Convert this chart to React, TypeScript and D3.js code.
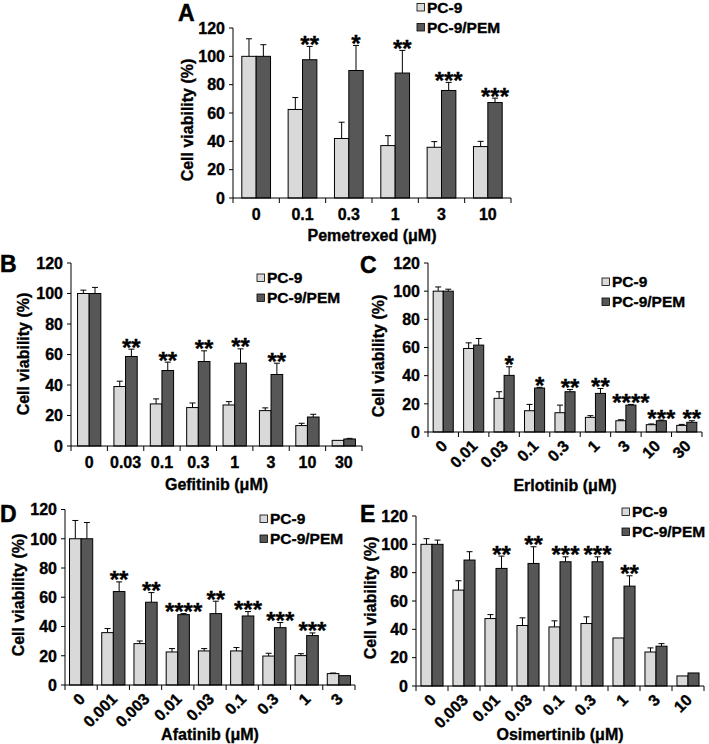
import React from "react";
import * as d3 from "d3";

// ---------- DATA ----------
const catsA = ["0", "0.1", "0.3", "1", "3", "10"];
const pc9A = [100, 62.5, 42, 37, 35.8, 36.3];
const pc9ErrA = [12.4, 8.4, 11.5, 7, 4, 3.7];
const pemA = [100, 97.6, 90, 88.2, 75.9, 67.4];
const pemErrA = [8.2, 9.4, 17.7, 16, 5.7, 3.1];
const starsA = ["", "**", "*", "**", "***", "***"];

const catsB = ["0", "0.03", "0.1", "0.3", "1", "3", "10", "30"];
const pc9B = [100, 39, 27.6, 25.2, 26.9, 23.2, 13.4, 3.7];
const pc9ErrB = [2.2, 3.5, 3.3, 3, 2.2, 1.8, 1.5, 0];
const pemB = [100, 58.7, 49.5, 55.4, 54.3, 46.9, 19, 4.6];
const pemErrB = [4, 4.8, 5.5, 7, 9.4, 7.4, 1.8, 0.4];
const starsB = ["", "**", "**", "**", "**", "**", "", ""];

const catsC = ["0", "0.01", "0.03", "0.1", "0.3", "1", "3", "10", "30"];
const pc9C = [100, 59.3, 23.9, 15.1, 13.7, 10.4, 8, 5.2, 4.7];
const pc9ErrC = [3, 4, 4.7, 4.5, 5.4, 1.2, 0.7, 0.5, 0.7];
const pemC = [100, 61.7, 40.2, 31.2, 28.6, 27.4, 19.1, 8, 6.9];
const pemErrC = [1.4, 4.7, 6.1, 0.5, 1.6, 3.5, 0.5, 0.5, 1.1];
const starsC = ["", "", "*", "*", "**", "**", "****", "***", "**"];

const catsD = ["0", "0.001", "0.003", "0.01", "0.03", "0.1", "0.3", "1", "3"];
const pc9D = [100, 35.8, 28.3, 22.6, 23.3, 23.3, 19.8, 20.1, 7.8];
const pc9ErrD = [12.5, 2.8, 1.8, 2.3, 1.6, 2.3, 1.9, 1.3, 0.4];
const pemD = [100, 63.9, 56.6, 48.1, 48.8, 47.2, 39.2, 33.8, 6.4];
const pemErrD = [11.1, 6.6, 6.6, 0.7, 8.5, 3, 3.5, 1.8, 0];
const starsD = ["", "**", "**", "****", "**", "***", "***", "***", ""];

const catsE = ["0", "0.003", "0.01", "0.03", "0.1", "0.3", "1", "3", "10"];
const pc9E = [100, 67.7, 47.6, 42.7, 41.7, 44.1, 33.9, 24, 7.1];
const pc9ErrE = [4, 6.6, 2.8, 5.4, 4.3, 4.7, 0, 2.9, 0];
const pemE = [100, 88.9, 83, 86.5, 87.7, 87.7, 70.5, 28.1, 9.2];
const pemErrE = [3, 5.9, 8.7, 11.8, 3.5, 3.5, 7.3, 1.8, 0];
const starsE = ["", "", "**", "**", "***", "***", "**", "", ""];

const yTicks = [0, 20, 40, 60, 80, 100, 120];
const seriesNames = ["PC-9", "PC-9/PEM"];

const LIGHT = "#d9d9d9";
const DARK = "#575757";
const FONT = "'Liberation Sans', Arial, sans-serif";

type PanelProps = {
  letter: string;
  letterX: number;
  letterY: number;
  cats: string[];
  pc9: number[];
  pc9Err: number[];
  pem: number[];
  pemErr: number[];
  stars: string[];
  x0: number;
  x1: number;
  yTop: number;
  yBot: number;
  groupFrac: number;
  rotate: boolean;
  labelY: number;
  title: string;
  titleY: number;
  yTitleX: number;
  yTitleY: number;
  legX: number;
  legY: number;
};

function Panel(p: PanelProps) {
  const x = d3.scaleBand<string>().domain(p.cats).range([p.x0, p.x1]).paddingInner(0).paddingOuter(0);
  const y = d3.scaleLinear().domain([0, 120]).range([p.yBot, p.yTop]);
  const bw = x.bandwidth();
  const inner = d3
    .scaleBand<string>()
    .domain(seriesNames)
    .range([(bw * (1 - p.groupFrac)) / 2, (bw * (1 + p.groupFrac)) / 2]);
  const barW = inner.bandwidth();
  const bounds = [...p.cats.map((c) => x(c) as number), p.x1];
  const series = [
    { name: seriesNames[0], vals: p.pc9, errs: p.pc9Err, fill: LIGHT },
    { name: seriesNames[1], vals: p.pem, errs: p.pemErr, fill: DARK },
  ];
  const tw = 0.35; // slight text stroke to mimic heavy print
  return (
    <g fontFamily={FONT} fontWeight="bold" fill="#000">
      <text x={p.letterX} y={p.letterY} fontSize={23} stroke="#000" strokeWidth={0.5}>
        {p.letter}
      </text>
      {/* bars */}
      {series.map((s) =>
        p.cats.map((c, i) => {
          const bx = (x(c) as number) + (inner(s.name) as number);
          const top = y(s.vals[i]);
          const cx = bx + barW / 2;
          const et = y(s.vals[i] + s.errs[i]);
          return (
            <g key={s.name + c}>
              {s.errs[i] > 0 && (
                <g stroke="#000" strokeWidth={1}>
                  <line x1={cx} x2={cx} y1={top} y2={et} />
                  <line x1={cx - 3} x2={cx + 3} y1={et} y2={et} />
                </g>
              )}
              <rect x={bx} y={top} width={barW} height={p.yBot - top} fill={s.fill} stroke="#000" strokeWidth={1} />
            </g>
          );
        })
      )}
      {/* stars */}
      {p.cats.map((c, i) => {
        if (!p.stars[i]) return null;
        const cx = (x(c) as number) + (inner(seriesNames[1]) as number) + barW / 2;
        const et = y(p.pem[i] + p.pemErr[i]);
        return (
          <text key={"s" + c} x={cx} y={et + 6.5} fontSize={24} textAnchor="middle" stroke="#000" strokeWidth={0.3}>
            {p.stars[i]}
          </text>
        );
      })}
      {/* y axis */}
      <line x1={p.x0} x2={p.x0} y1={p.yTop} y2={p.yBot} stroke="#000" strokeWidth={1} />
      {yTicks.map((t) => (
        <g key={"y" + t}>
          <line x1={p.x0 - 4} x2={p.x0} y1={y(t)} y2={y(t)} stroke="#000" strokeWidth={1} />
          <text x={p.x0 - 8} y={y(t)} dy="0.36em" fontSize={16} textAnchor="end" stroke="#000" strokeWidth={tw}>
            {t}
          </text>
        </g>
      ))}
      {/* x axis */}
      <line x1={p.x0} x2={p.x1} y1={p.yBot} y2={p.yBot} stroke="#000" strokeWidth={1} />
      {bounds.map((b, i) => (
        <line key={"xt" + i} x1={b} x2={b} y1={p.yBot} y2={p.yBot + 5} stroke="#000" strokeWidth={1} />
      ))}
      {p.cats.map((c) => {
        const cx = (x(c) as number) + bw / 2;
        return p.rotate ? (
          <text
            key={"xl" + c}
            fontSize={16}
            textAnchor="end"
            stroke="#000"
            strokeWidth={tw}
            transform={`translate(${cx + 5},${p.yBot + 15}) rotate(-45)`}
          >
            {c}
          </text>
        ) : (
          <text key={"xl" + c} x={cx} y={p.labelY} fontSize={16} textAnchor="middle" stroke="#000" strokeWidth={tw}>
            {c}
          </text>
        );
      })}
      <text x={(p.x0 + p.x1) / 2} y={p.titleY} fontSize={16} textAnchor="middle" stroke="#000" strokeWidth={tw}>
        {p.title}
      </text>
      <text
        fontSize={16}
        textAnchor="middle"
        stroke="#000"
        strokeWidth={tw}
        transform={`translate(${p.yTitleX},${p.yTitleY}) rotate(-90)`}
      >
        Cell viability (%)
      </text>
      {/* legend */}
      {series.map((s, i) => (
        <g key={"lg" + s.name}>
          <rect x={p.legX} y={p.legY + i * 20} width={7.5} height={7.5} fill={s.fill} stroke="#000" strokeWidth={0.8} />
          <text x={p.legX + 10} y={p.legY + i * 20 + 9} fontSize={15.5} stroke="#000" strokeWidth={tw}>
            {s.name}
          </text>
        </g>
      ))}
    </g>
  );
}

export default function App() {
  return (
    <svg
      width={709}
      height={744}
      style={{ position: "absolute", left: 0, top: 0, background: "#fff" }}
    >
      <rect width={709} height={744} fill="#fff" />
      <Panel
        letter="A" letterX={178} letterY={21}
        cats={catsA} pc9={pc9A} pc9Err={pc9ErrA} pem={pemA} pemErr={pemErrA} stars={starsA}
        x0={233} x1={511} yTop={28} yBot={198} groupFrac={0.62} rotate={false}
        labelY={220} title="Pemetrexed (μM)" titleY={241}
        yTitleX={192.5} yTitleY={120} legX={417} legY={3.5}
      />
      <Panel
        letter="B" letterX={0} letterY={272}
        cats={catsB} pc9={pc9B} pc9Err={pc9ErrB} pem={pemB} pemErr={pemErrB} stars={starsB}
        x0={71} x1={362} yTop={263} yBot={446} groupFrac={0.64} rotate={false}
        labelY={468} title="Gefitinib (μM)" titleY={490}
        yTitleX={29} yTitleY={354} legX={257} legY={274}
      />
      <Panel
        letter="C" letterX={360} letterY={273}
        cats={catsC} pc9={pc9C} pc9Err={pc9ErrC} pem={pemC} pemErr={pemErrC} stars={starsC}
        x0={428} x1={702} yTop={263} yBot={432} groupFrac={0.66} rotate={true}
        labelY={0} title="Erlotinib (μM)" titleY={491}
        yTitleX={383.5} yTitleY={356} legX={602} legY={278}
      />
      <Panel
        letter="D" letterX={0} letterY={522}
        cats={catsD} pc9={pc9D} pc9Err={pc9ErrD} pem={pemD} pemErr={pemErrD} stars={starsD}
        x0={65} x1={355} yTop={509.5} yBot={685} groupFrac={0.72} rotate={true}
        labelY={0} title="Afatinib (μM)" titleY={740}
        yTitleX={24} yTitleY={595} legX={260} legY={515}
      />
      <Panel
        letter="E" letterX={360} letterY={522}
        cats={catsE} pc9={pc9E} pc9Err={pc9ErrE} pem={pemE} pemErr={pemErrE} stars={starsE}
        x0={416} x1={704} yTop={516} yBot={686} groupFrac={0.69} rotate={true}
        labelY={0} title="Osimertinib (μM)" titleY={740}
        yTitleX={375.5} yTitleY={598} legX={622} legY={508}
      />
    </svg>
  );
}
